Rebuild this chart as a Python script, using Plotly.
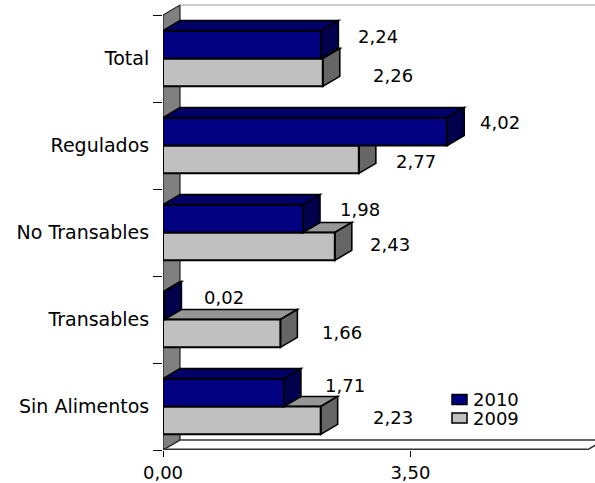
import plotly.graph_objects as go

categories = ["Sin Alimentos", "Transables", "No Transables", "Regulados", "Total"]
values_2010 = [1.71, 0.02, 1.98, 4.02, 2.24]
values_2009 = [2.23, 1.66, 2.43, 2.77, 2.26]
series_names = ["2010", "2009"]
series_colors = ["#000080", "#C0C0C0"]

# label nudges in px (layout only)
shift_2010 = [(61, 7.5), (60, 8.5), (57, 9.5), (53, 9.5), (57, 8.5)]
shift_2009 = [(72, 2.5), (62, 0.5), (55, 1.5), (57, -2.5), (70, -3.5)]
legend_rows_px = [399.5, 418]

W, H = 595, 483
ML, MB = 163, 33
PX_X = 70.7
PX_Y = 87.0
DX = 17 / PX_X
DY = 10 / PX_Y
BAR = 0.32
XMAX = (W - ML) / PX_X
XEND = 6.0
FONT = "DejaVu Sans"
FS = 18
ypos = list(range(len(categories)))
YMIN, YTOP = -0.5, len(categories) - 0.5


def poly(pts, fill, lw=1.6, color="black", layer="below"):
    d = "M " + " L ".join(f"{x},{y}" for x, y in pts) + " Z"
    return dict(type="path", path=d, xref="x", yref="y", fillcolor=fill, layer=layer,
                line=dict(color=color, width=lw))


def faces(v, y0, y1, top, side, layer):
    return [
        poly([(0, y1), (DX, y1 + DY), (v + DX, y1 + DY), (v, y1)], top, layer=layer),
        poly([(v, y0), (v + DX, y0 + DY), (v + DX, y1 + DY), (v, y1)], side, layer=layer),
    ]


def px_x(px):
    return (px - ML) / (W - ML)


def px_y(py):
    return (H - MB - py) / (H - MB)


shapes = [
    poly([(0, YMIN), (DX, YMIN + DY), (DX, YTOP + DY), (0, YTOP)], "#808080", lw=1),
    poly([(0, YMIN), (XEND, YMIN), (XEND + DX, YMIN + DY), (DX, YMIN + DY)], "white", lw=1.5, color="#333333"),
    dict(type="line", xref="x", yref="y", x0=0, x1=XEND, y0=YMIN, y1=YMIN, layer="below",
         line=dict(color="#333333", width=3)),
    dict(type="line", xref="x", yref="y", x0=DX, x1=XMAX, y0=YTOP + DY, y1=YTOP + DY, layer="below",
         line=dict(color="#999999", width=1)),
]
for p, a, b in zip(ypos, values_2010, values_2009):
    shapes += faces(b, p - BAR, p, "#969696", "#666666", "below")
for p, a, b in zip(ypos, values_2010, values_2009):
    shapes += faces(a, p, p + BAR, "#000066", "#00004D", "above")

annotations = []
for p, a, b, sa, sb in zip(ypos, values_2010, values_2009, shift_2010, shift_2009):
    for v, yy, s in ((a, p + BAR / 2, sa), (b, p - BAR / 2, sb)):
        annotations.append(dict(x=v, y=yy, xref="x", yref="y", text=f"{v:.2f}".replace(".", ","),
                                showarrow=False, xshift=s[0], yshift=s[1],
                                font=dict(family=FONT, size=FS, color="black")))

# key, placed to the pixel like the reference
for name, col, row in zip(series_names, series_colors, legend_rows_px):
    shapes.append(dict(type="rect", xref="paper", yref="paper", x0=px_x(452), x1=px_x(467),
                       y0=px_y(row + 5), y1=px_y(row - 5), fillcolor=col, layer="above",
                       line=dict(color="black", width=1.5)))
    annotations.append(dict(x=px_x(472), y=px_y(row), xref="paper", yref="paper", text=name,
                            xanchor="left", yanchor="middle", showarrow=False, xshift=0,
                            borderpad=0, font=dict(family=FONT, size=FS, color="black")))

fig = go.Figure()
fig.add_bar(y=ypos, x=values_2009, orientation="h", cliponaxis=False,
            marker=dict(color=series_colors[1], line=dict(color="black", width=2)),
            showlegend=False, name=series_names[1])
fig.add_bar(y=ypos, x=values_2010, orientation="h", cliponaxis=False,
            marker=dict(color=series_colors[0], line=dict(color="black", width=2)),
            showlegend=False, name=series_names[0])

fig.update_layout(
    width=W, height=H, margin=dict(l=ML, r=0, t=0, b=MB),
    paper_bgcolor="white", plot_bgcolor="white",
    barmode="group", bargap=1 - 2 * BAR, bargroupgap=0,
    separators=",.",
    shapes=shapes, annotations=annotations,
    font=dict(family=FONT, size=FS, color="black"),
    showlegend=False,
    xaxis=dict(range=[0, XMAX], tickmode="array", tickvals=[0, 3.5], tickformat=".2f", ticks="outside",
               ticklen=6, tickcolor="black", showgrid=False, zeroline=False, showline=False),
    yaxis=dict(range=[YMIN, YMIN + (H - MB) / PX_Y], tickmode="array", tickvals=ypos, ticktext=categories,
               tickfont=dict(size=19),
               ticks="outside", ticklen=9, tickcolor="rgba(0,0,0,0)", showgrid=False, zeroline=False,
               showline=False,
               minor=dict(tickmode="array", tickvals=[p - 0.5 for p in ypos] + [YTOP], ticks="outside",
                          ticklen=9, tickcolor="black", tickwidth=1, showgrid=False)),
)
fig.write_html("out.html", config={"displayModeBar": False},
               post_script="document.body.style.margin='0';document.body.style.overflow='hidden';")
